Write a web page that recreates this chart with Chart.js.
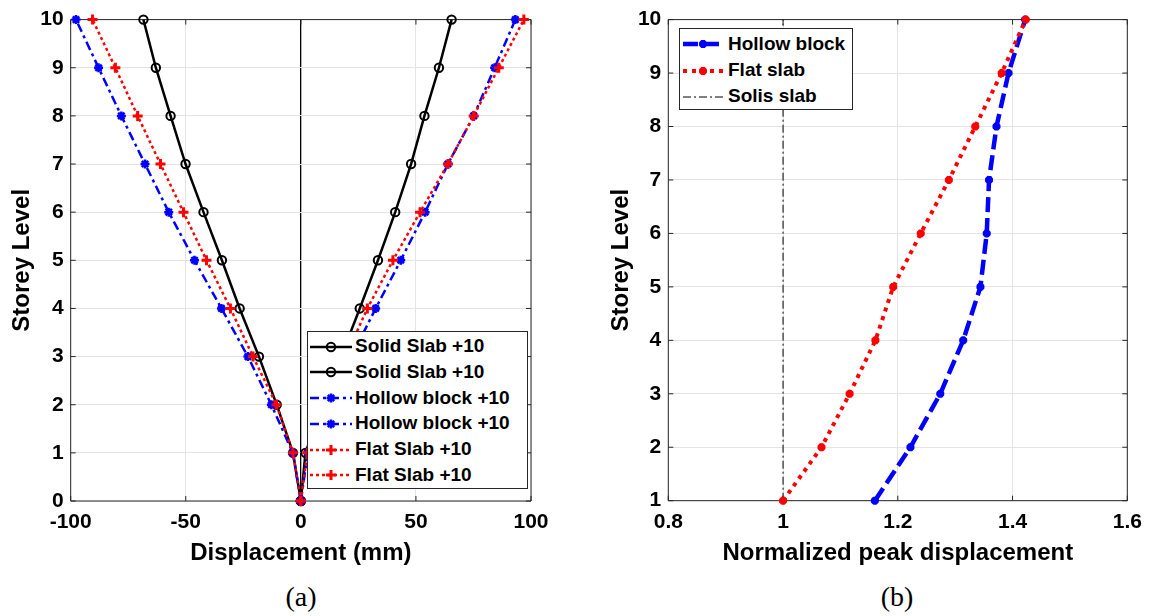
<!DOCTYPE html>
<html>
<head>
<meta charset="utf-8">
<script src="https://cdn.jsdelivr.net/npm/chart.js@4.4.1/dist/chart.umd.min.js"></script>
<style>
html,body{margin:0;padding:0;background:#fff;}
body{width:1157px;height:616px;overflow:hidden;position:relative;font-family:"Liberation Sans",Arial,Helvetica,sans-serif;}
.wrap{position:absolute;top:0;height:570px;}
#wa{left:0;width:560px;}
#wb{left:578px;width:579px;}
.cap{position:absolute;font-family:"Liberation Serif","Times New Roman",serif;font-size:28px;line-height:28px;top:583px;width:60px;margin-left:-30px;text-align:center;color:#000;}
.legend{position:absolute;background:#fff;border:1px solid #262626;box-sizing:border-box;z-index:5;}
.legend canvas{position:absolute;}
.legend .lt{position:absolute;white-space:nowrap;font-weight:bold;color:#000;}
</style>
</head>
<body>
<div class="wrap" id="wa"><canvas id="ca"></canvas></div>
<div class="wrap" id="wb"><canvas id="cb"></canvas></div>
<div class="cap" style="left:301px;">(a)</div>
<div class="cap" style="left:897px;">(b)</div>
<script>
// ---------- DATA: chart (a) ----------
const storeyLevels = [0, 1, 2, 3, 4, 5, 6, 7, 8, 9, 10];
const solidNeg  = [0, -3.4, -10.5, -18.2, -26.6, -34.3, -42.3, -50.1, -56.6, -63.0, -68.4];
const solidPos  = [0, 2.0, 9.5, 17.5, 25.6, 33.5, 41.0, 47.9, 53.7, 60.0, 65.5];
const hollowNeg = [0, -3.5, -12.8, -23.0, -34.5, -46.2, -57.4, -67.7, -78.0, -87.9, -97.7];
const hollowPos = [0, 3.0, 12.0, 22.0, 32.5, 43.4, 54.0, 63.9, 75.1, 84.2, 93.2];
const flatNeg   = [0, -3.4, -10.6, -20.8, -30.6, -41.0, -51.0, -61.0, -70.9, -80.6, -90.5];
const flatPos   = [0, 2.8, 10.5, 19.5, 28.9, 40.0, 51.8, 63.9, 75.1, 86.0, 96.9];
const xTickValsA = [-100, -50, 0, 50, 100];
const xTickLabelsA = ['-100', '-50', '0', '50', '100'];
const yTickValsA = [0, 1, 2, 3, 4, 5, 6, 7, 8, 9, 10];
const yTickLabelsA = ['0', '1', '2', '3', '4', '5', '6', '7', '8', '9', '10'];
const labelsA = ['Solid Slab +10', 'Solid Slab +10', 'Hollow block +10', 'Hollow block +10', 'Flat Slab +10', 'Flat Slab +10'];

// ---------- DATA: chart (b) ----------
const storeyLevelsB = [1, 2, 3, 4, 5, 6, 7, 8, 9, 10];
const hollowNorm = [1.160, 1.222, 1.274, 1.314, 1.344, 1.355, 1.359, 1.372, 1.393, 1.422];
const flatNorm   = [1.000, 1.067, 1.116, 1.161, 1.192, 1.240, 1.289, 1.335, 1.381, 1.423];
const solisLevels = [1, 10];
const solisNorm   = [1, 1];
const xTickValsB = [0.8, 1.0, 1.2, 1.4, 1.6];
const xTickLabelsB = ['0.8', '1', '1.2', '1.4', '1.6'];
const yTickValsB = [1, 2, 3, 4, 5, 6, 7, 8, 9, 10];
const yTickLabelsB = ['1', '2', '3', '4', '5', '6', '7', '8', '9', '10'];
const labelsB = ['Hollow block', 'Flat slab', 'Solis slab'];

// ---------- helpers ----------
const FONT = "'Liberation Sans', Arial, Helvetica, sans-serif";
Chart.defaults.font.family = FONT;
Chart.defaults.color = '#000';
const TICK_FONT = {family: FONT, size: 21, weight: 'bold'};
const TITLE_FONT = {family: FONT, size: 24, weight: 'bold'};
const AXIS_COLOR = '#262626';
const GRID_COLOR = '#e4e4e4';

const pts = (xs, ys) => ys.map((y, i) => ({x: xs[i], y: y}));

const framePlugin = {
  id: 'frame',
  beforeDatasetsDraw(chart) {
    const {ctx, chartArea: a, scales} = chart;
    const L = 5;
    ctx.save();
    ctx.strokeStyle = AXIS_COLOR;
    ctx.lineWidth = 1;
    ctx.beginPath();
    scales.x.ticks.forEach(t => {
      const px = scales.x.getPixelForValue(t.value);
      ctx.moveTo(px, a.bottom); ctx.lineTo(px, a.bottom - L);
      ctx.moveTo(px, a.top); ctx.lineTo(px, a.top + L);
    });
    scales.y.ticks.forEach(t => {
      const py = scales.y.getPixelForValue(t.value);
      ctx.moveTo(a.left, py); ctx.lineTo(a.left + L, py);
      ctx.moveTo(a.right, py); ctx.lineTo(a.right - L, py);
    });
    ctx.stroke();
    ctx.beginPath();
    ctx.rect(a.left, a.top, a.right - a.left, a.bottom - a.top);
    ctx.stroke();
    ctx.restore();
  }
};

function drawMarker(c, style, r, x, y) {
  c.beginPath();
  const d = r * Math.SQRT1_2;
  if (style === 'circle') {
    c.arc(x, y, r, 0, Math.PI * 2);
  } else if (style === 'cross') {
    c.moveTo(x - r, y); c.lineTo(x + r, y); c.moveTo(x, y - r); c.lineTo(x, y + r);
  } else if (style === 'crossRot') {
    c.moveTo(x - d, y - d); c.lineTo(x + d, y + d); c.moveTo(x - d, y + d); c.lineTo(x + d, y - d);
  } else if (style === 'star') {
    c.moveTo(x - r, y); c.lineTo(x + r, y); c.moveTo(x, y - r); c.lineTo(x, y + r);
    c.moveTo(x - d, y - d); c.lineTo(x + d, y + d); c.moveTo(x - d, y + d); c.lineTo(x + d, y - d);
  }
  c.stroke();
}

function makeLegend(spec) {
  const box = document.createElement('div');
  box.className = 'legend';
  Object.assign(box.style, {left: spec.left + 'px', top: spec.top + 'px', width: spec.width + 'px', height: spec.height + 'px'});
  document.body.appendChild(box);
  spec.items.forEach((ds, i) => {
    const cy = spec.rowY0 + i * spec.rowStep - spec.top - 1;
    const cv = document.createElement('canvas');
    cv.width = spec.sampleW; cv.height = 24;
    cv.style.left = (spec.sampleX - spec.left - 1) + 'px';
    cv.style.top = (cy - 12) + 'px';
    const c = cv.getContext('2d');
    c.strokeStyle = ds.borderColor;
    c.lineWidth = ds.borderWidth;
    c.setLineDash(ds.borderDash || []);
    c.beginPath(); c.moveTo(0, 12); c.lineTo(spec.sampleW, 12); c.stroke();
    c.setLineDash([]);
    if (ds.pointRadius > 0) {
      c.lineWidth = ds.pointBorderWidth;
      drawMarker(c, ds.pointStyle, ds.pointRadius, spec.sampleW / 2, 12);
    }
    box.appendChild(cv);
    const t = document.createElement('div');
    t.className = 'lt';
    t.textContent = ds.label;
    t.style.fontSize = spec.fontSize + 'px';
    t.style.lineHeight = (spec.fontSize * 1.2) + 'px';
    t.style.left = (spec.textX - spec.left - 1) + 'px';
    t.style.top = (cy - spec.fontSize * 0.6) + 'px';
    box.appendChild(t);
  });
}

function axisX(vals, labels, min, max, title, height, titlePadBottom, gridColorFn) {
  return {
    type: 'linear', min: min, max: max,
    afterBuildTicks: s => { s.ticks = vals.map(v => ({value: v})); },
    afterFit: s => { s.height = height; },
    ticks: {font: TICK_FONT, color: '#000', padding: 9, maxRotation: 0, autoSkip: false,
            callback: (v, i) => labels[i]},
    grid: {drawTicks: false, color: gridColorFn || GRID_COLOR,
           lineWidth: c => (gridColorFn && c.tick && c.tick.value === 0) ? 1.3 : 1},
    border: {display: false},
    title: {display: true, text: title, font: TITLE_FONT, color: '#000', padding: {top: 0, bottom: titlePadBottom}}
  };
}
function axisY(vals, labels, min, max, title, width, titlePadTop) {
  return {
    type: 'linear', min: min, max: max,
    afterBuildTicks: s => { s.ticks = vals.map(v => ({value: v})); },
    afterFit: s => { s.width = width; },
    ticks: {font: TICK_FONT, color: '#000', padding: 7, autoSkip: false,
            callback: (v, i) => labels[i]},
    grid: {drawTicks: false, color: GRID_COLOR},
    border: {display: false},
    title: {display: true, text: title, font: TITLE_FONT, color: '#000', padding: {top: titlePadTop, bottom: 0}}
  };
}

// ---------- chart (a) ----------
const styleSolid  = {borderColor: '#000000', borderWidth: 2.5, borderDash: [], pointStyle: 'circle', pointRadius: 4.2, pointBorderWidth: 2};
const styleHollow = {borderColor: '#0000ff', borderWidth: 2.5, borderDash: [9, 4, 3, 4], pointStyle: 'star', pointRadius: 4.5, pointBorderWidth: 2.5};
const styleFlat   = {borderColor: '#ff0000', borderWidth: 2.5, borderDash: [3, 3], pointStyle: 'cross', pointRadius: 5, pointBorderWidth: 3};

function dsA(label, xs, st, order) {
  return Object.assign({
    label: label, data: pts(xs, storeyLevels), order: order, clip: false, tension: 0, fill: false,
    pointBackgroundColor: 'rgba(0,0,0,0)', pointBorderColor: st.borderColor, backgroundColor: 'rgba(0,0,0,0)'
  }, st);
}
const datasetsA = [
  dsA(labelsA[0], solidNeg, styleSolid, 3),
  dsA(labelsA[1], solidPos, styleSolid, 3),
  dsA(labelsA[2], hollowNeg, styleHollow, 2),
  dsA(labelsA[3], hollowPos, styleHollow, 2),
  dsA(labelsA[4], flatNeg, styleFlat, 1),
  dsA(labelsA[5], flatPos, styleFlat, 1)
];

new Chart(document.getElementById('ca'), {
  type: 'line',
  data: {datasets: datasetsA},
  options: {
    responsive: true, maintainAspectRatio: false, animation: false, events: [],
    layout: {padding: {top: 17, right: 29, left: 0, bottom: 0}},
    plugins: {legend: {display: false}, tooltip: {enabled: false}},
    scales: {
      x: axisX(xTickValsA, xTickLabelsA, -100, 100, 'Displacement (mm)', 69, 2,
               c => (c.tick && c.tick.value === 0) ? '#000000' : GRID_COLOR),
      y: axisY(yTickValsA, yTickLabelsA, 0, 10, 'Storey Level', 70.7, 7.6)
    }
  },
  plugins: [framePlugin]
});

// ---------- chart (b) ----------
const styleHollowB = {borderColor: '#0000ff', borderWidth: 4.5, borderDash: [15, 6], pointStyle: 'star', pointRadius: 4, pointBorderWidth: 3};
const styleFlatB   = {borderColor: '#ff0000', borderWidth: 4, borderDash: [4, 5], pointStyle: 'star', pointRadius: 4, pointBorderWidth: 3};
const styleSolisB  = {borderColor: '#000000', borderWidth: 1, borderDash: [8, 3, 2, 3], pointStyle: 'circle', pointRadius: 0, pointBorderWidth: 0};

const datasetsB = [
  Object.assign({label: labelsB[0], data: pts(hollowNorm, storeyLevelsB), order: 2, clip: false, tension: 0, fill: false,
    pointBackgroundColor: '#0000ff', pointBorderColor: '#0000ff', backgroundColor: '#0000ff'}, styleHollowB),
  Object.assign({label: labelsB[1], data: pts(flatNorm, storeyLevelsB), order: 1, clip: false, tension: 0, fill: false,
    pointBackgroundColor: '#ff0000', pointBorderColor: '#ff0000', backgroundColor: '#ff0000'}, styleFlatB),
  Object.assign({label: labelsB[2], data: pts(solisNorm, solisLevels), order: 3, clip: false, tension: 0, fill: false,
    backgroundColor: '#000000'}, styleSolisB)
];

new Chart(document.getElementById('cb'), {
  type: 'line',
  data: {datasets: datasetsB},
  options: {
    responsive: true, maintainAspectRatio: false, animation: false, events: [],
    layout: {padding: {top: 17, right: 29.7, left: 0, bottom: 0}},
    plugins: {legend: {display: false}, tooltip: {enabled: false}},
    scales: {
      x: axisX(xTickValsB, xTickLabelsB, 0.8, 1.6, 'Normalized peak displacement', 69.3, 2, null),
      y: axisY(yTickValsB, yTickLabelsB, 1, 10, 'Storey Level', 90.3, 28.6)
    }
  },
  plugins: [framePlugin]
});

// ---------- legends ----------
makeLegend({left: 307, top: 331, width: 221, height: 158, rowY0: 346.7, rowStep: 25.7,
            sampleX: 310, sampleW: 42, textX: 355, fontSize: 19, items: datasetsA});
makeLegend({left: 679, top: 28, width: 174, height: 82, rowY0: 44.3, rowStep: 26.2,
            sampleX: 683, sampleW: 40, textX: 728, fontSize: 19, items: datasetsB});
</script>
</body>
</html>
